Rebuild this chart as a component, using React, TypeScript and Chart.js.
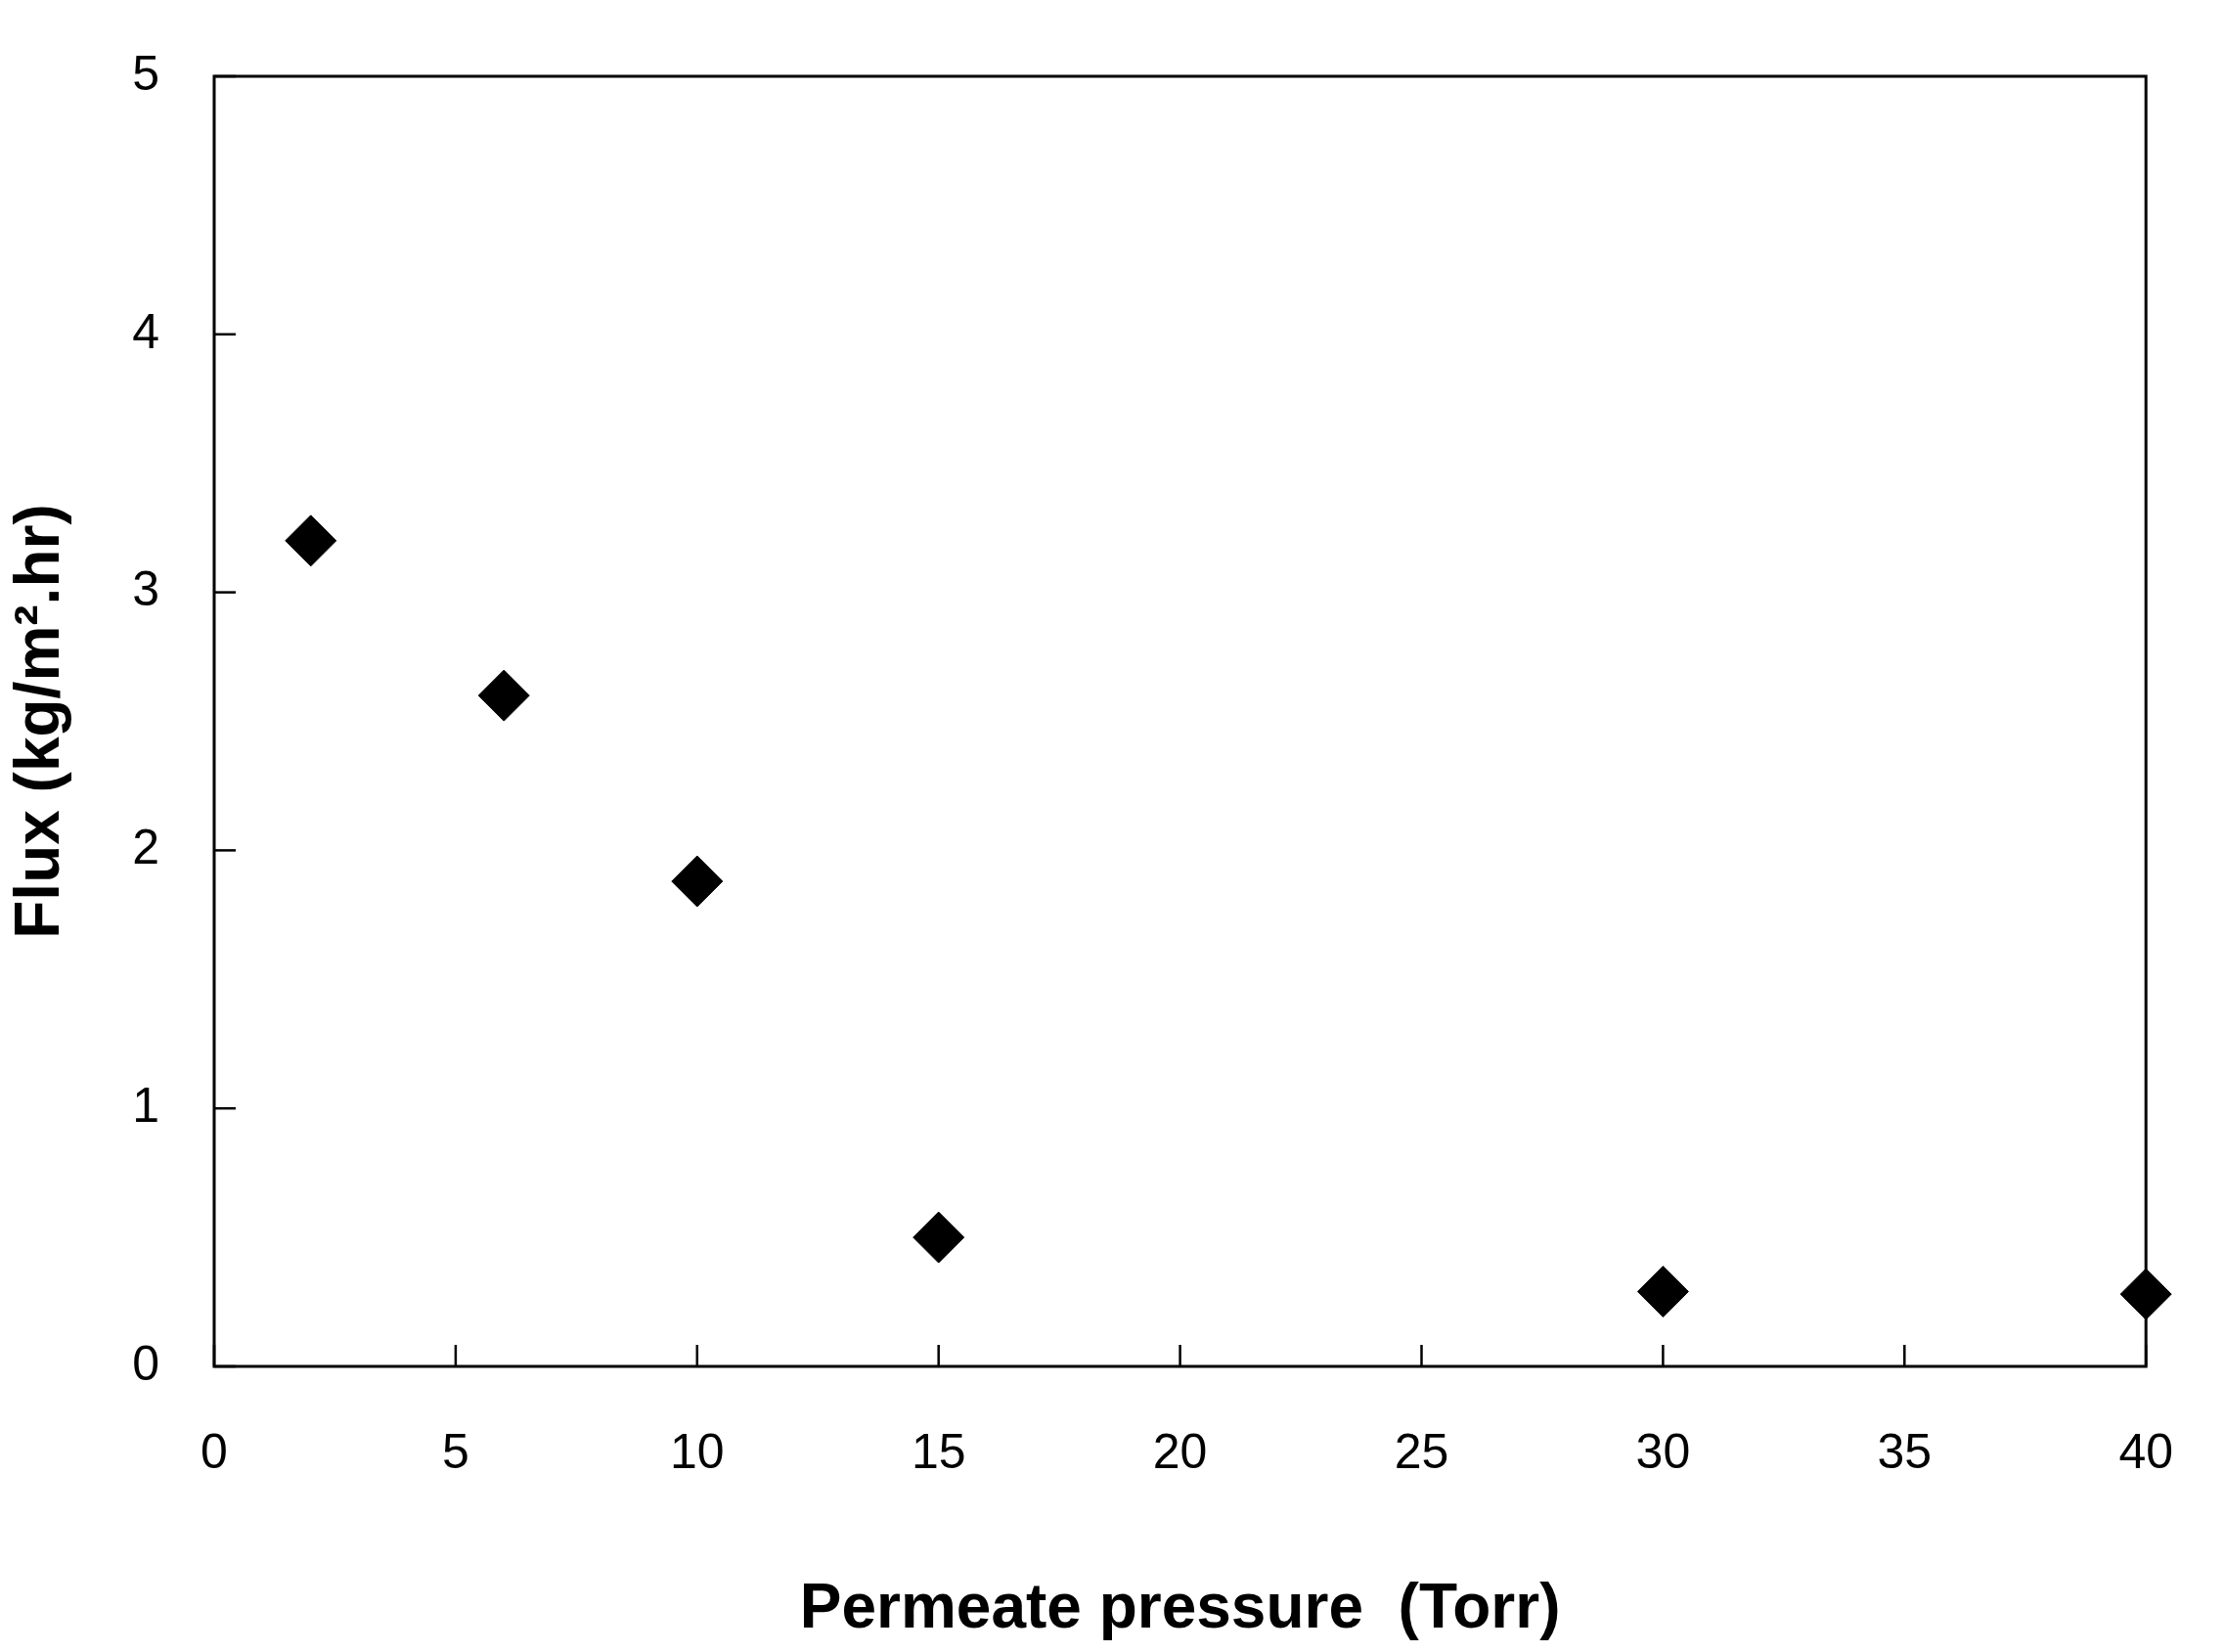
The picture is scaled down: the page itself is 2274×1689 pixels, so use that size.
import React, { useEffect, useRef } from "react";
import { Chart, registerables } from "chart.js";
Chart.register(...registerables);

const pressure = [2, 6, 10, 15, 30, 40];
const flux = [3.2, 2.6, 1.88, 0.5, 0.29, 0.28];

const inwardTicks = {
  id: "inwardTicks",
  afterDraw(chart: any) {
    const { ctx, chartArea: a, scales } = chart;
    ctx.save();
    ctx.strokeStyle = "#000";
    ctx.lineWidth = 3;
    ctx.strokeRect(a.left, a.top, a.right - a.left, a.bottom - a.top);
    ctx.lineWidth = 2.5;
    scales.x.ticks.forEach((t: any) => {
      const x = scales.x.getPixelForValue(t.value);
      ctx.beginPath(); ctx.moveTo(x, a.bottom); ctx.lineTo(x, a.bottom - 22); ctx.stroke();
    });
    scales.y.ticks.forEach((t: any) => {
      const y = scales.y.getPixelForValue(t.value);
      ctx.beginPath(); ctx.moveTo(a.left, y); ctx.lineTo(a.left + 22, y); ctx.stroke();
    });
    ctx.restore();
  },
};

export default function App() {
  const ref = useRef<HTMLCanvasElement>(null);
  useEffect(() => {
    document.body.style.margin = "0";
    const chart = new Chart(ref.current!, {
      type: "scatter",
      data: {
        datasets: [{
          data: pressure.map((x, i) => ({ x, y: flux[i] })),
          pointStyle: "rectRot",
          radius: 26,
          backgroundColor: "#000",
          borderColor: "#000",
          clip: false as any,
        }],
      },
      options: {
        animation: false,
        responsive: false,
        devicePixelRatio: 1,
        layout: { padding: { top: 41, right: 51, left: 0, bottom: 0 } },
        plugins: { legend: { display: false }, tooltip: { enabled: false } },
        scales: {
          x: {
            min: 0, max: 40,
            ticks: { stepSize: 5, padding: 52, color: "#000", font: { family: "Liberation Sans", size: 50 } },
            grid: { display: false },
            border: { display: false },
            title: { display: true, text: "Permeate pressure  (Torr)", color: "#000", padding: { top: 70 }, font: { family: "Liberation Sans", size: 64, weight: "bold" } },
            afterFit: (s: any) => { s.height = 292; },
          },
          y: {
            min: 0, max: 5,
            ticks: { stepSize: 1, padding: 48, color: "#000", font: { family: "Liberation Sans", size: 50 } },
            grid: { display: false },
            border: { display: false },
            title: { display: true, text: "Flux (kg/m².hr)", color: "#000", font: { family: "Liberation Sans", size: 64, weight: "bold" } },
            afterFit: (s: any) => { s.width = 219; },
          },
        },
      },
      plugins: [inwardTicks],
    });
    return () => chart.destroy();
  }, []);
  return <canvas ref={ref} width={2274} height={1689} style={{ display: "block" }} />;
}
